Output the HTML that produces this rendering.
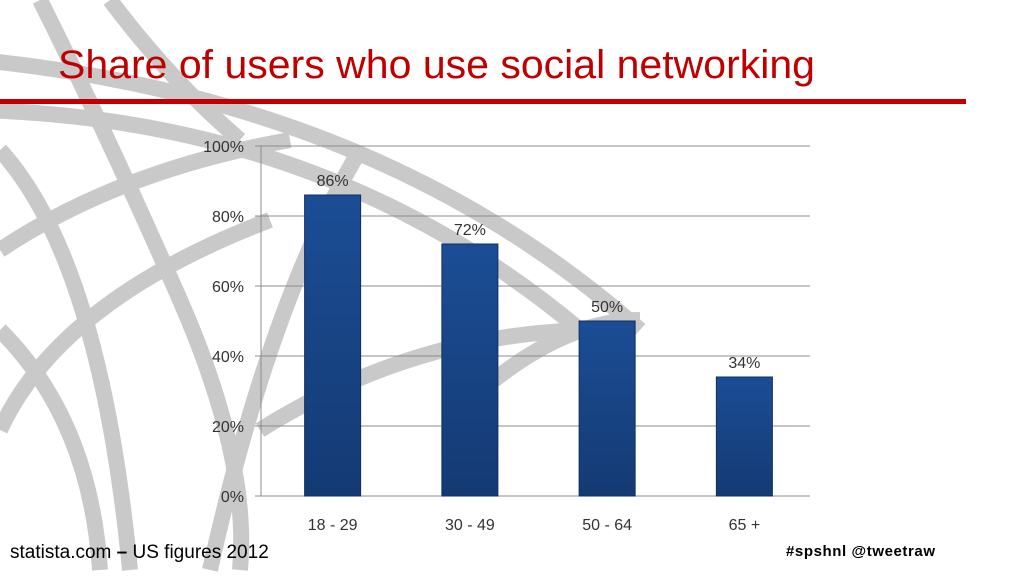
<!DOCTYPE html>
<html><head><meta charset="utf-8"><style>
html,body{margin:0;padding:0;background:#fff;width:1024px;height:576px;overflow:hidden;font-family:"Liberation Sans",sans-serif}
</style></head><body>
<svg width="1024" height="576" style="position:absolute;left:0;top:0">
<defs><linearGradient id="bg" x1="0" y1="0" x2="0" y2="1"><stop offset="0" stop-color="#1b4d95"/><stop offset="1" stop-color="#143a73"/></linearGradient></defs>
<g fill="none" stroke="#c4c4c4" stroke-width="16" opacity="0.9">
<path d="M-20,60 Q380,100 640,330"/>
<path d="M-20,110 Q330,120 580,330"/>
<path d="M0,250 Q120,170 290,140"/>
<path d="M0,430 Q60,300 270,220"/>
<path d="M210,570 Q270,300 360,150"/>
<path d="M470,400 Q560,320 640,320"/>
<path d="M260,430 Q420,330 600,330"/>
<path d="M40,0 Q110,140 180,300 T240,570"/>
<path d="M0,150 Q100,260 130,570"/>
<path d="M110,0 Q170,80 240,140"/>
<path d="M0,330 Q90,420 100,570"/>
</g>
<text x="58" y="78" font-size="40" fill="#c00000" textLength="757" lengthAdjust="spacingAndGlyphs">Share of users who use social networking</text>
<rect x="0" y="99" width="966" height="5" fill="#c00000"/>
<g id="chart"></g>
<text x="10" y="558" font-size="19" fill="#000">statista.com <tspan font-weight="bold">–</tspan> US figures 2012</text>
<text x="786" y="556" font-size="15" font-weight="bold" fill="#000" textLength="149">#spshnl  @tweetraw</text>
</svg>
<script>
const categories=["18 - 29","30 - 49","50 - 64","65 +"];
const values=[86,72,50,34];
const yTicks=[0,20,40,60,80,100];
const NS="http://www.w3.org/2000/svg";
const g=document.getElementById('chart');
const x0=264,x1=813,yb=496,yt=146;
const y=v=>yb-(v/100)*(yb-yt);
const bw=(x1-x0)/categories.length;
function mk(t,a,p){const e=document.createElementNS(NS,t);for(const k in a)e.setAttribute(k,a[k]);(p||g).appendChild(e);return e;}
yTicks.forEach(t=>{
 const l=mk('line',{x1:x0-9,x2:x1-3,y1:y(t),y2:y(t),stroke:'#8c8c8c','stroke-width':1});
 
 
 const tx=mk('text',{x:x0-20,y:y(t)+6,'font-size':16,'text-anchor':'end',fill:'#333'});
 tx.textContent=t+'%';
 
 
});
const ax=mk('line',{x1:x0-3,x2:x0-3,y1:yt,y2:yb,stroke:'#8c8c8c'});


categories.forEach((c,i)=>{
 const cx=x0+bw*(i+0.5),v=values[i];
 const r=mk('rect',{x:cx-28,y:y(v),width:56,height:yb-y(v),fill:'url(#bg)',stroke:'#0f2f60','stroke-width':1});
 
 
 const lb=mk('text',{x:cx,y:y(v)-9,'font-size':16,'text-anchor':'middle',fill:'#333'});
 lb.textContent=v+'%';
 
 
 const xl=mk('text',{x:cx,y:530,'font-size':16,'text-anchor':'middle',fill:'#333'});
 xl.textContent=c;
 
 
});
</script>
</body></html>
